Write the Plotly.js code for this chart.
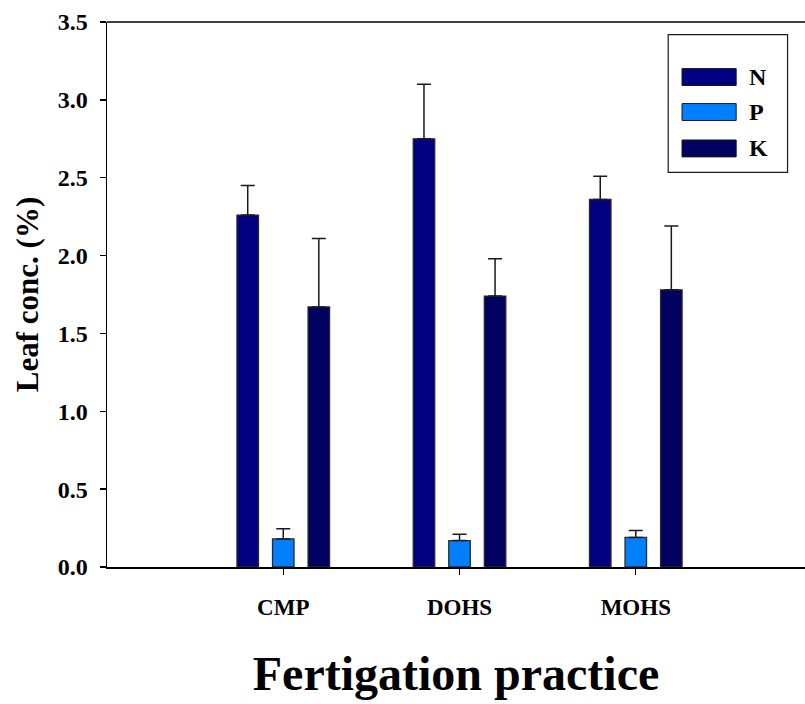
<!DOCTYPE html>
<html>
<head>
<meta charset="utf-8">
<script src="https://cdn.plot.ly/plotly-3.0.1.min.js"></script>
<style>
  html, body { margin: 0; padding: 0; background: #fff; overflow: hidden; }
  #chart { width: 805px; height: 704px; }
</style>
</head>
<body>
<div id="chart"></div>
<script>
// Leaf nutrient concentration by fertigation practice
const practices = ['CMP', 'DOHS', 'MOHS'];

const nutrientNames = ['N', 'P', 'K'];
const nutrientColors = ['#000080', '#0080FF', '#000060'];

const nValues = [2.26, 2.75, 2.36];
const nErrors = [0.19, 0.35, 0.15];

const pValues = [0.18, 0.17, 0.19];
const pErrors = [0.065, 0.04, 0.045];

const kValues = [1.67, 1.74, 1.78];
const kErrors = [0.44, 0.24, 0.41];

const yTicks = [0, 0.5, 1.0, 1.5, 2.0, 2.5, 3.0, 3.5];
const yTickText = ['0.0', '0.5', '1.0', '1.5', '2.0', '2.5', '3.0', '3.5'];

const seriesValues = [nValues, pValues, kValues];
const seriesErrors = [nErrors, pErrors, kErrors];

const FONT = '"Liberation Serif", "Times New Roman", serif';

const traces = nutrientNames.map((name, i) => ({
  type: 'bar',
  name: name,
  x: practices,
  y: seriesValues[i],
  marker: { color: nutrientColors[i], line: { color: '#2a2a2a', width: 1.3 } },
  error_y: {
    type: 'data',
    symmetric: false,
    array: seriesErrors[i],
    arrayminus: seriesErrors[i].map(() => 0),
    color: '#1a1a1a',
    thickness: 1.5,
    width: 7
  },
  showlegend: false
}));

// Boxed key in the upper right corner of the plot area
const keyShapes = [{
  type: 'rect', xref: 'paper', yref: 'paper',
  x0: 0.804, x1: 0.975, y0: 0.7242, y1: 0.9767,
  line: { color: '#1a1a1a', width: 1.2 }, fillcolor: 'rgba(0,0,0,0)'
}];
const keyAnnotations = [];
const keyRows = [0.0735, 0.1377, 0.2045];  // vertical offsets of each row below the plot top
nutrientNames.forEach((name, i) => {
  const yc = 1 - keyRows[i] - 0.0275;
  keyShapes.push({
    type: 'rect', xref: 'paper', yref: 'paper',
    x0: 0.8238, x1: 0.9014, y0: yc - 0.0155, y1: yc + 0.0155,
    fillcolor: nutrientColors[i], line: { color: '#1a1a1a', width: 1 }
  });
  keyAnnotations.push({
    xref: 'paper', yref: 'paper', x: 0.9175, y: yc,
    xanchor: 'left', yanchor: 'middle', showarrow: false,
    text: '<b>' + name + '</b>',
    font: { family: FONT, size: 24, color: '#000' }
  });
});

// Top frame line
keyShapes.push({
  type: 'line', xref: 'paper', yref: 'paper',
  x0: 0, x1: 1, y0: 1, y1: 1,
  line: { color: '#000', width: 1.5 }
});

const layout = {
  width: 805,
  height: 704,
  margin: { l: 107, r: 0, t: 22, b: 137 },
  paper_bgcolor: '#fff',
  plot_bgcolor: '#fff',
  barmode: 'group',
  bargap: 0.395,
  bargroupgap: 0.395,
  font: { family: FONT, color: '#000' },
  xaxis: {
    type: 'category',
    range: [-1, 2.96],
    showline: true, linecolor: '#000', linewidth: 2,
    ticks: 'outside', ticklen: 6, tickwidth: 1.3, tickcolor: '#000',
    tickfont: { family: FONT, size: 23, color: '#000', weight: 'bold' },
    ticklabelstandoff: 12,
    showgrid: false, zeroline: false,
    title: {
      text: '<b>Fertigation practice</b>',
      font: { family: FONT, size: 48, color: '#000' },
      standoff: 38
    }
  },
  yaxis: {
    range: [0, 3.5],
    tickvals: yTicks,
    ticktext: yTickText,
    showline: true, linecolor: '#000', linewidth: 1.5,
    ticks: 'outside', ticklen: 6, tickwidth: 1.3, tickcolor: '#000',
    tickfont: { family: FONT, size: 24, color: '#000', weight: 'bold' },
    ticklabelstandoff: 7,
    showgrid: false, zeroline: false,
    title: {
      text: '<b>Leaf conc. (%)</b>',
      font: { family: FONT, size: 31, color: '#000' },
      standoff: 10
    }
  },
  shapes: keyShapes,
  annotations: keyAnnotations
};

Plotly.newPlot('chart', traces, layout, { displayModeBar: false, staticPlot: true });
</script>
</body>
</html>
